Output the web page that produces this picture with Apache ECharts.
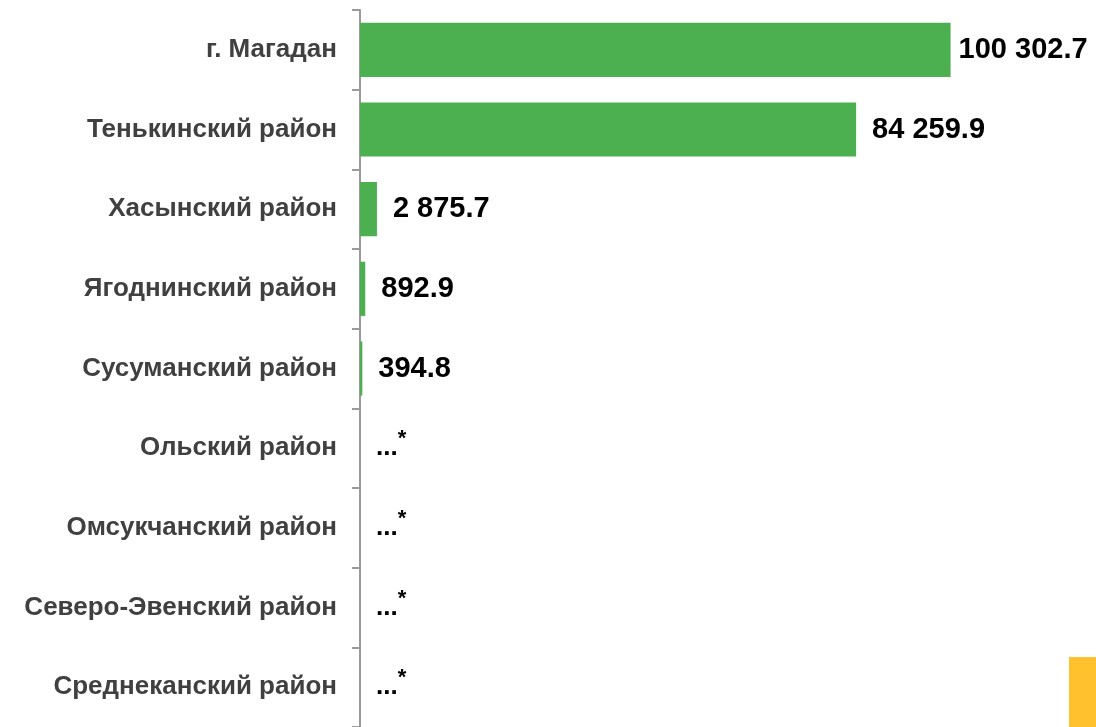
<!DOCTYPE html>
<html lang="ru">
<head>
    <meta charset="UTF-8">
    <title>Районы</title>
    <style>
        *{margin: 0; padding: 0;}
        body,html{width: 100%; height: 100%; background: #fff;}
        #chart{width: 1096px; height: 727px;}
    </style>
</head>
<body>
<div id="chart"></div>
<script src="https://cdn.jsdelivr.net/npm/echarts@6/dist/echarts.min.js"></script>
<script>
// categories top -> bottom
var districts = ['г. Магадан', 'Тенькинский район', 'Хасынский район', 'Ягоднинский район',
    'Сусуманский район', 'Ольский район', 'Омсукчанский район', 'Северо-Эвенский район', 'Среднеканский район'];
var values = [100302.7, 84259.9, 2875.7, 892.9, 394.8, 0, 0, 0, 0];
var labels = ['100 302.7', '84 259.9', '2 875.7', '892.9', '394.8', '...*', '...*', '...*', '...*'];

var font = "'Liberation Sans', Arial, sans-serif";

var seriesData = [];
for (let i = 0; i < values.length; i++) {
    let item = {value: values[i]};
    if (i == 0) item.label = {distance: 8};
    seriesData.push(item);
}

let option = {
    animation: false,
    grid: {left: 360, top: 10, width: 736, height: 720},
    xAxis: {
        type: 'value',
        min: 0,
        max: 125000,
        show: false
    },
    yAxis: {
        type: 'category',
        inverse: true,
        data: districts,
        axisLine: {lineStyle: {color: '#9a9a9a', width: 2}},
        axisTick: {show: true, length: 8, lineStyle: {color: '#9a9a9a', width: 2}},
        axisLabel: {
            margin: 23,
            color: '#404040',
            fontFamily: font,
            fontWeight: 'bold',
            fontSize: 26
        }
    },
    series: [{
        type: 'bar',
        data: seriesData,
        barCategoryGap: '32%',
        itemStyle: {color: '#4caf50'},
        label: {
            show: true,
            position: 'right',
            distance: 16,
            formatter: function (p) {
                let t = labels[p.dataIndex];
                if (t == '...*') return '{d|...}{s|*}';
                return t;
            },
            color: '#000',
            fontFamily: font,
            fontWeight: 'bold',
            fontSize: 29,
            rich: {
                d: {color: '#000', fontFamily: font, fontWeight: 'bold', fontSize: 26},
                s: {color: '#000', fontFamily: font, fontWeight: 'bold', fontSize: 22, padding: [0, 0, 18, 0]}
            }
        }
    }],
    graphic: [{
        type: 'rect',
        right: 0,
        bottom: 0,
        shape: {width: 27, height: 70},
        style: {fill: '#ffc12e'}
    }]
};
var myChart = echarts.init(document.getElementById('chart'));
myChart.setOption(option);
</script>
</body>
</html>
